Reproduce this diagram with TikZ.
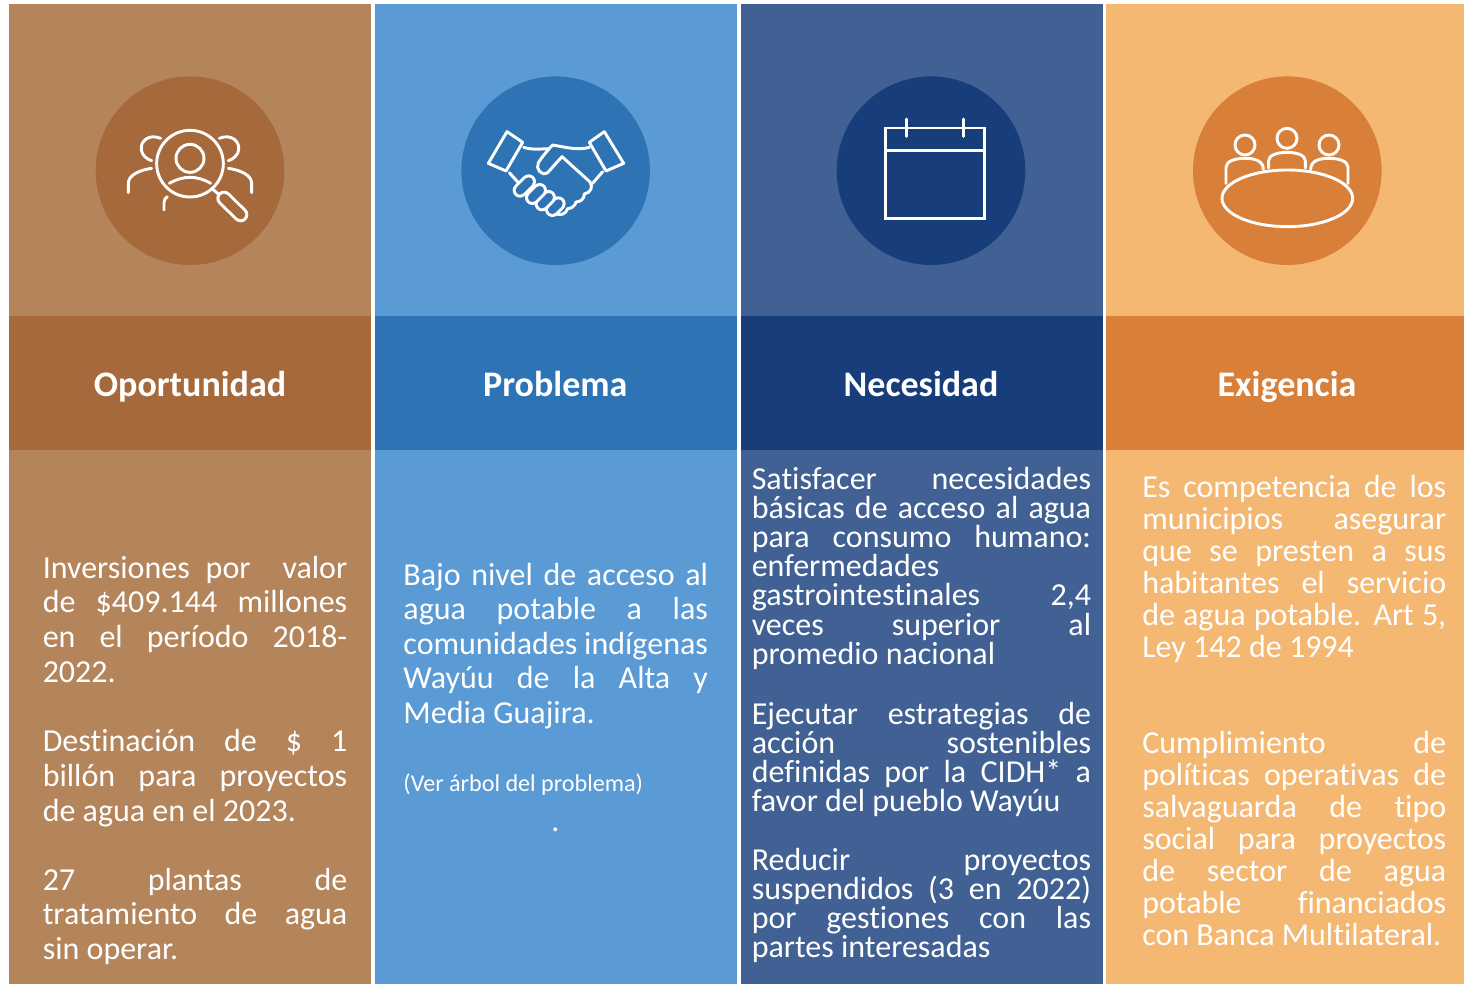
\documentclass[tikz,border=0pt]{standalone}
\usepackage{fontspec}
\setmainfont{Carlito}[RawFeature=-liga]
\tolerance=10000 \hbadness=10000 \hfuzz=20pt
\definecolor{brL}{HTML}{B4845B}\definecolor{brD}{HTML}{A5693B}
\definecolor{blL}{HTML}{5B9BD5}\definecolor{blD}{HTML}{2E74B5}
\definecolor{nvL}{HTML}{416194}\definecolor{nvD}{HTML}{173D7A}
\definecolor{orL}{HTML}{F4B873}\definecolor{orD}{HTML}{D87F3A}
\tikzset{
 icon/.style={draw=white,line width=2.2pt,line cap=round,line join=round},
 title/.style={text=white,font=\fontsize{27}{32}\selectfont\bfseries,anchor=base,inner sep=0pt},
 para/.style={text=white,anchor=base west,inner sep=0pt,align=left},
}
\newcommand{\para}[4]{\node[para] (#1) at (#2) {\parbox[t]{#3}{#4\par}};}
\newcommand{\colA}{\fontsize{24}{26.1}\selectfont}
\newcommand{\colB}{\fontsize{24}{25.9}\selectfont}
\newcommand{\colC}{\fontsize{24}{21.9}\selectfont}
\newcommand{\colD}{\fontsize{24}{24}\selectfont}
\begin{document}
\begin{tikzpicture}[x=0.75pt,y=-0.75pt]
\useasboundingbox (0,0) rectangle (1464,984);
\fill[white] (0,0) rectangle (1464,984);
% columns
\fill[brL] (9,4) rectangle (371,984);
\fill[blL] (375,4) rectangle (737,984);
\fill[nvL] (741,4) rectangle (1103,984);
\fill[orL] (1106,4) rectangle (1464,984);
\fill[brD] (9,316) rectangle (371,450);
\fill[blD] (375,316) rectangle (737,450);
\fill[nvD] (741,316) rectangle (1103,450);
\fill[orD] (1106,316) rectangle (1464,450);
\fill[brD] (190,170.7) circle[radius=94.3];
\fill[blD] (555.7,170.7) circle[radius=94.3];
\fill[nvD] (931,170.7) circle[radius=94.3];
\fill[orD] (1287.3,170.7) circle[radius=94.3];
% icon 1
\begin{scope}[shift={(90,70)},x=0.25pt,y=-0.25pt]
\draw[icon] (300,281) circle[radius=100];
\draw[icon] (300,265) circle[radius=42];
\draw[icon] (238,340) .. controls (280,316) and (320,316) .. (362,340);
\draw[icon] (212,205) .. controls (175,190) and (150,215) .. (154,240) .. controls (156,255) and (170,268) .. (185,272);
\draw[icon] (388,205) .. controls (425,190) and (450,215) .. (446,240) .. controls (444,255) and (430,268) .. (415,272);
\draw[icon] (185,295) .. controls (150,300) and (115,315) .. (115,340) -- (115,368);
\draw[icon] (415,295) .. controls (450,300) and (485,315) .. (485,340) -- (485,368);
\draw[icon] (222,420) -- (222,397) .. controls (222,390) and (226,384) .. (232,380);
\draw[icon] (365,355) -- (385,372);
\draw[white,line width=11.5pt,line cap=round] (402,385) -- (452,434);
\draw[brD,line width=7pt,line cap=round] (402,385) -- (452,434);
\end{scope}
% icon 2
\begin{scope}[shift={(456,70)},x=0.25pt,y=-0.25pt]
\draw[icon] (153,185) -- (200,217) -- (150,303) -- (97,280) -- cycle;
\draw[icon] (445,185) -- (400,217) -- (450,303) -- (503,280) -- cycle;
\draw[icon] (203,232) .. controls (225,240) and (255,237) .. (278,236);
\draw[icon] (400,232) .. controls (365,242) and (330,232) .. (290,225) .. controls (280,235) and (260,258) .. (247,278) .. controls (238,295) and (255,320) .. (275,308) -- (318,260) -- (402,336) .. controls (412,350) and (405,368) .. (385,372) .. controls (385,388) and (372,396) .. (360,396) .. controls (358,408) and (345,416) .. (335,416) .. controls (330,434) and (310,438) .. (298,430);
\draw[icon] (160,308) -- (187,338);
\draw[icon] (440,305) -- (410,340);
\foreach \x/\y/\l in {298/410/9, 268/392/10, 240/372/11, 205/348/13}{
 \draw[white,line width=11pt,line cap=round,shift={(\x,\y)}] (-\l,\l) -- (\l,-\l);
 \draw[blD,line width=6.6pt,line cap=round,shift={(\x,\y)}] (-\l,\l) -- (\l,-\l);
}
\end{scope}
% icon 3
\begin{scope}[shift={(830,70)},x=0.25pt,y=-0.25pt]
\draw[icon,line cap=butt,line join=miter] (166,174) rectangle (464,445);
\draw[icon,line cap=butt] (166,241) -- (464,241);
\draw[icon] (230,147) -- (230,199);
\draw[icon] (400,147) -- (400,199);
\end{scope}
% icon 4
\begin{scope}[shift={(1186,70)},x=0.25pt,y=-0.25pt]
\draw[icon] (304,385) ellipse[x radius=196,y radius=85];
\draw[icon] (177,225) circle[radius=30];
\draw[icon] (303,205) circle[radius=30];
\draw[icon] (429,225) circle[radius=30];
\draw[icon] (120,340) -- (120,292) .. controls (120,272) and (150,265) .. (178,265) .. controls (205,265) and (232,272) .. (232,298);
\draw[icon] (248,294) -- (248,272) .. controls (248,255) and (275,247) .. (303,247) .. controls (330,247) and (358,255) .. (358,272) -- (358,294);
\draw[icon] (486,340) -- (486,292) .. controls (486,272) and (456,265) .. (428,265) .. controls (401,265) and (374,272) .. (374,298);
\end{scope}
% titles
\node[title] (t1) at (190,396) {Oportunidad};
\node[title] (t2) at (555.3,396) {Problema};
\node[title] (t3) at (921,396) {Necesidad};
\node[title] (t4) at (1287,396) {Exigencia};
% col 1
\para{a1}{42.5,578}{228.4pt}{\colA Inversiones por \ valor\linebreak de \$409.144 millones\linebreak en el período 2018-\linebreak 2022.}
\para{a2}{42.5,751.4}{228.4pt}{\colA Destinación de \$ 1\linebreak billón para proyectos\linebreak de agua en el 2023.}
\para{a3}{42.5,890}{228.4pt}{\colA 27 plantas de\linebreak tratamiento de agua\linebreak sin operar.}
% col 2
\para{b1}{403.2,585}{228.4pt}{\colB Bajo nivel de acceso al\linebreak agua potable a las\linebreak comunidades indígenas\linebreak Wayúu de la Alta y\linebreak Media Guajira.}
\node[para,font=\fontsize{18.1}{22}\selectfont] (b2) at (403.2,791) {(Ver árbol del problema)};
\node[text=white,anchor=base,inner sep=0pt,font=\fontsize{24}{26}\selectfont] (b3) at (555.5,831) {.};
% col 3
\para{c1}{751.5,489}{254.5pt}{\colC Satisfacer necesidades\linebreak básicas de acceso al agua\linebreak para consumo humano:\linebreak enfermedades\linebreak gastrointestinales 2,4\linebreak veces superior al\linebreak promedio nacional}
\para{c2}{751.5,724}{254.5pt}{\colC Ejecutar estrategias de\linebreak acción sostenibles\linebreak definidas por la CIDH* a\linebreak favor del pueblo Wayúu}
\para{c3}{751.5,870}{254.5pt}{\colC Reducir proyectos\linebreak suspendidos (3 en 2022)\linebreak por gestiones con las\linebreak partes interesadas}
% col 4
\para{d1}{1142,497}{228pt}{\colD Es competencia de los\linebreak municipios asegurar\linebreak que se presten a sus\linebreak habitantes el servicio\linebreak de agua potable. Art 5,\linebreak Ley 142 de 1994}
\para{d2}{1142,753}{228pt}{\colD Cumplimiento de\linebreak políticas operativas de\linebreak salvaguarda de tipo\linebreak social para proyectos\linebreak de sector de agua\linebreak potable financiados\linebreak con Banca Multilateral.}
\end{tikzpicture}
\end{document}
